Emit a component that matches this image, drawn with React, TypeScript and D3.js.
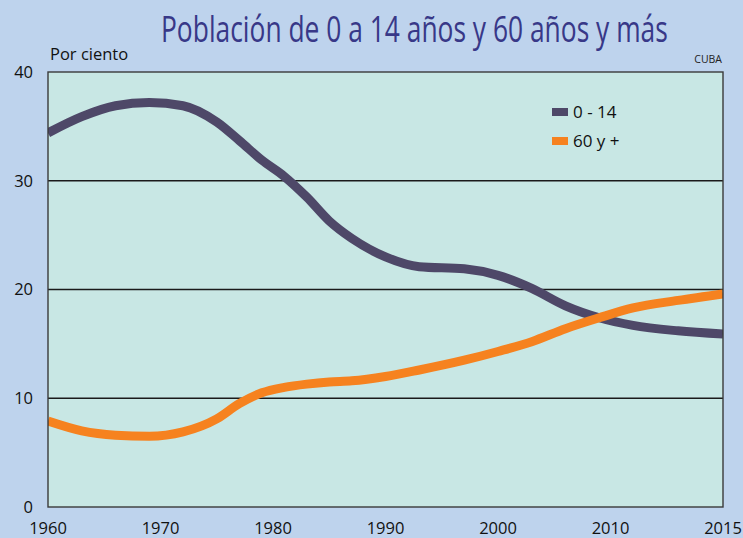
import React, { useLayoutEffect, useRef, useState } from 'react'
import * as d3 from 'd3'

const width = 743
const height = 538
const plot = { left: 48, right: 723, top: 72, bottom: 507 }

const bg = '#bed3ed'
const plotBg = '#c8e7e4'
const purple = '#4e4868'
const orange = '#f6821f'
const titleColor = '#383888'
const font = '"Open Sans", "Noto Sans", sans-serif'
const titleWidth = 507

// x labels are evenly spaced in the original, although the last step is 5 years
const xLabels = ['1960', '1970', '1980', '1990', '2000', '2010', '2015']
const yTicks = [0, 10, 20, 30, 40]

const years = [1960, 1963, 1966, 1969, 1972, 1975, 1977, 1979, 1981, 1983, 1985,
  1987, 1990, 1993, 1997, 2000, 2003, 2006, 2009, 2011, 2013, 2015]
const young = [34.4, 35.9, 36.9, 37.2, 36.9, 35.4, 33.7, 31.9, 30.4, 28.5, 26.3,
  24.7, 23.0, 22.1, 21.9, 21.3, 20.1, 18.5, 17.4, 16.7, 16.2, 15.9]
const old = [7.9, 7.0, 6.6, 6.5, 6.9, 8.1, 9.5, 10.5, 11.0, 11.3, 11.5,
  11.6, 12.0, 12.6, 13.5, 14.3, 15.2, 16.4, 17.4, 18.3, 19.0, 19.6]

const series = [
  { name: '0 - 14', values: young, color: purple },
  { name: '60 y +', values: old, color: orange },
]

export default function App() {
  const titleRef = useRef<SVGTextElement>(null)
  const [titleScale, setTitleScale] = useState(0.8)

  // the original title uses a condensed face, squeeze ours to the same width
  useLayoutEffect(() => {
    if (!titleRef.current) return
    const len = titleRef.current.getComputedTextLength()
    if (len > 0) setTitleScale(titleWidth / len)
  }, [])

  const xBand = d3.scalePoint().domain(xLabels).range([plot.left, plot.right])
  // piecewise so the data follows the stretched last interval
  const x = d3.scaleLinear()
    .domain([1960, 2010, 2015])
    .range([xBand('1960')!, xBand('2010')!, xBand('2015')!])
  const y = d3.scaleLinear().domain([0, 40]).range([plot.bottom, plot.top])

  const line = d3.line<number>()
    .x((_, i) => x(years[i]))
    .y(d => y(d))
    .curve(d3.curveMonotoneX)

  return (
    <svg width={width} height={height}
      style={{ position: 'absolute', left: 0, top: 0, display: 'block' }}>
      <defs>
        <clipPath id="plotClip">
          <rect x={plot.left} y={plot.top} width={plot.right - plot.left} height={plot.bottom - plot.top} />
        </clipPath>
      </defs>
      <rect width={width} height={height} fill={bg} />
      <rect x={plot.left} y={plot.top} width={plot.right - plot.left} height={plot.bottom - plot.top}
        fill={plotBg} />

      <text ref={titleRef} transform={`translate(161, 42) scale(${titleScale}, 1)`}
        fill={titleColor} fontSize={37}
        style={{ fontFamily: '"Liberation Sans Narrow", "Open Sans", sans-serif' }}>
        Población de 0 a 14 años y 60 años y más
      </text>
      <text x={50} y={60} fontSize={16.5} fill="#111" style={{ fontFamily: font }}>Por ciento</text>
      <text x={722} y={63} fontSize={10.5} fill="#222" textAnchor="end" style={{ fontFamily: font }}>CUBA</text>

      {yTicks.filter(t => t > 0 && t < 40).map(t => (
        <line key={t} x1={plot.left} x2={plot.right} y1={y(t)} y2={y(t)} stroke="#1a1a1a" strokeWidth={1.6} />
      ))}

      <g clipPath="url(#plotClip)">
        {series.map(s => (
          <path key={s.name} d={line(s.values) ?? ''} fill="none" stroke={s.color} strokeWidth={9} />
        ))}
      </g>

      <rect x={plot.left} y={plot.top} width={plot.right - plot.left} height={plot.bottom - plot.top}
        fill="none" stroke="#3a3a3a" strokeWidth={1.4} />

      {yTicks.map(t => (
        <text key={t} x={33} y={y(t)} dy="0.35em" textAnchor="end" fontSize={16.5} fill="#111"
          style={{ fontFamily: font }}>{t}</text>
      ))}
      {xLabels.map(l => (
        <text key={l} x={xBand(l)!} y={534} textAnchor="middle" fontSize={16.5} fill="#111"
          style={{ fontFamily: font }}>{l}</text>
      ))}

      {series.map((s, i) => (
        <g key={s.name} transform={`translate(552, ${112 + i * 29})`}>
          <rect x={0} y={-4} width={16} height={8} fill={s.color} />
          <text x={21} y={0} dy="0.35em" fontSize={17} fill="#111" style={{ fontFamily: font }}>{s.name}</text>
        </g>
      ))}
    </svg>
  )
}
